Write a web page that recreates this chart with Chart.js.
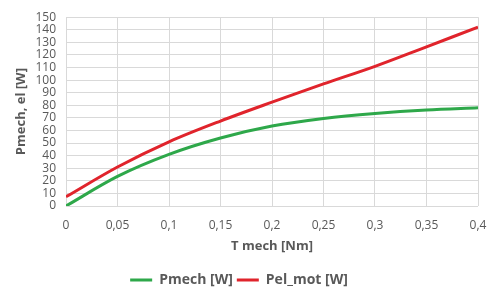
<!DOCTYPE html>
<html>
<head>
<meta charset="utf-8">
<script src="https://cdn.jsdelivr.net/npm/chart.js@4"></script>
<style>
  html, body { margin: 0; padding: 0; background: #fff; }
  #wrap { width: 489px; height: 289px; }
</style>
</head>
<body>
<div id="wrap"><canvas id="chartP"></canvas></div>
<script>
// torque values [Nm]
const torque = [0, 0.05, 0.1, 0.15, 0.2, 0.25, 0.3, 0.35, 0.4];
// mechanical power [W]
const pMech = [0, 23.5, 41, 54, 63.5, 69.5, 73.5, 76.3, 78];
// electrical motor power [W]
const pElMot = [7.3, 31, 51, 67.5, 82.5, 97, 111, 126.5, 142];

const grey = '#595959';
const font = "'Open Sans', 'Liberation Sans', sans-serif";

function toPoints(xs, ys) {
    let points = new Array(xs.length);
    for (let i = 0; i < xs.length; i++) {
        points[i] = {x: xs[i], y: ys[i]};
    }
    return points;
}

const data = {
    datasets: [{
        label: 'Pmech [W]',
        data: toPoints(torque, pMech),
        borderColor: '#2ea84a',
        backgroundColor: '#2ea84a',
        borderWidth: 3,
        pointRadius: 0,
        cubicInterpolationMode: 'monotone'
    }, {
        label: 'Pel_mot [W]',
        data: toPoints(torque, pElMot),
        borderColor: '#e0242c',
        backgroundColor: '#e0242c',
        borderWidth: 3,
        pointRadius: 0,
        cubicInterpolationMode: 'monotone'
    }]
};

const config = {
    type: 'line',
    data: data,
    options: {
        responsive: true,
        maintainAspectRatio: false,
        animation: false,
        layout: {padding: {left: 0, right: 11, top: 14, bottom: -8}},
        plugins: {
            tooltip: {enabled: false},
            legend: {
                position: 'bottom',
                labels: {
                    color: grey,
                    font: {family: font, size: 14, weight: 'bold'},
                    boxWidth: 22,
                    boxHeight: 0,
                    padding: 4
                }
            }
        },
        scales: {
            x: {
                type: 'linear',
                min: 0,
                max: 0.4,
                border: {display: false},
                grid: {color: '#d9d9d9', drawTicks: false},
                ticks: {
                    stepSize: 0.05,
                    color: grey,
                    padding: 12,
                    font: {family: font, size: 12},
                    callback: v => String(parseFloat(v.toFixed(2))).replace('.', ',')
                },
                title: {
                    display: true,
                    text: 'T mech [Nm]',
                    color: grey,
                    font: {family: font, size: 13, weight: 'bold'},
                    padding: {top: 3, bottom: 15}
                },
                afterFit: scale => {
                    scale.height = 63;
                    scale.paddingRight = 0;
                }
            },
            y: {
                min: 0,
                max: 150,
                border: {display: false},
                grid: {color: '#d9d9d9', drawTicks: false},
                ticks: {
                    stepSize: 10,
                    autoSkip: false,
                    color: grey,
                    padding: 10,
                    font: {family: font, size: 12}
                },
                title: {
                    display: true,
                    text: 'Pmech, el [W]',
                    color: grey,
                    font: {family: font, size: 13, weight: 'bold'},
                    padding: {top: 13, bottom: 2}
                },
                afterFit: scale => { scale.width = 66; }
            }
        }
    }
};

const myChart = new Chart(document.getElementById('chartP'), config);
</script>
</body>
</html>
